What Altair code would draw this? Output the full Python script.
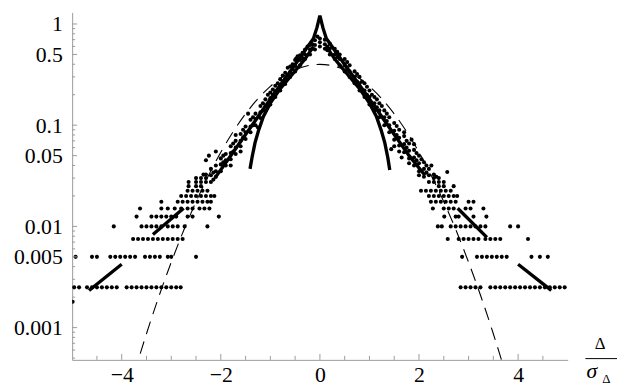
import altair as alt
import pandas as pd

# ---------------- data ----------------
# quantised low-level rows of the histogram (y level -> x positions)
row_levels = [0.0025, 0.005, 0.0075, 0.01, 0.0125, 0.015, 0.0175, 0.02, 0.0225]
row_left_x = [
    [-4.96, -4.86, -4.7, -4.6, -4.5, -4.4, -4.3, -4.2, -4.1, -3.9, -3.8, -3.7, -3.6, -3.5, -3.4, -3.3, -3.2, -3.1, -3.0, -2.9, -2.81],
    [-4.93, -4.6, -4.5, -4.23, -4.13, -4.03, -3.93, -3.83, -3.73, -3.53, -3.43, -3.33, -3.23, -3.07, -3.0, -2.5],
    [-3.77, -3.67, -3.57, -3.47, -3.37, -3.27, -3.17, -3.07, -2.97, -2.87, -2.77],
    [-4.16, -3.6, -3.5, -3.4, -3.3, -3.2, -3.07, -2.97, -2.87, -2.73, -2.27],
    [-3.7, -3.4, -3.3, -3.2, -3.1, -3.0, -2.9, -2.67, -2.57, -2.04],
    [-3.63, -3.2, -3.07, -2.93, -2.8, -2.67, -2.57, -2.43, -2.33, -2.23],
    [-3.2, -2.87, -2.77, -2.67, -2.57, -2.47, -2.37, -2.27, -2.2],
    [-2.8, -2.7, -2.6, -2.5, -2.4, -2.3, -2.2, -2.13],
    [-2.67, -2.57, -2.47, -2.37, -2.27],
]
row_right_x = [
    [2.84, 2.94, 3.04, 3.14, 3.24, 3.44, 3.54, 3.64, 3.74, 3.84, 3.94, 4.04, 4.14, 4.24, 4.34, 4.44, 4.54, 4.64, 4.74, 4.84, 4.94],
    [2.87, 3.17, 3.27, 3.37, 3.47, 3.57, 3.67, 3.77, 4.27, 4.44, 4.6],
    [2.58, 2.8, 2.9, 3.0, 3.1, 3.2, 3.34, 3.44, 3.54, 3.64, 4.2],
    [2.38, 2.46, 2.64, 2.74, 2.84, 2.94, 3.04, 3.14, 3.24, 3.34, 3.84, 4.0],
    [2.51, 2.74, 2.8, 3.1, 3.36],
    [2.28, 2.5, 2.6, 2.7, 2.94, 3.04, 3.3],
    [2.24, 2.34, 2.44, 2.54, 2.64, 2.74, 3.0, 3.1],
    [2.2, 2.3, 2.4, 2.5, 2.6, 2.7, 2.77],
    [2.04, 2.14, 2.24, 2.34, 2.44, 2.54, 2.64],
]
extra_x = [-4.99]
extra_y = [0.0018]

# dense band of points (x, y)
band_left_x = [
    -2.5, -2.5, -2.5, -2.4, -2.4, -2.4, -2.3, -2.3, -2.3, -2.2, -2.2, -2.2,
    -2.1, -2.1, -2.1, -2.0, -2.0, -2.0, -1.9, -1.9, -1.9, -1.8, -1.8, -1.8,
    -1.7, -1.7, -1.7, -1.6, -1.6, -1.6, -1.5, -1.5, -1.5, -1.4, -1.4, -1.4,
    -1.3, -1.3, -1.3, -1.2, -1.2, -1.2, -1.1, -1.1, -1.1, -1.0, -1.0, -1.0,
    -0.9, -0.9, -0.9, -0.8, -0.8, -0.8, -0.7, -0.7, -0.7, -0.6, -0.6, -0.6,
    -0.5, -0.5, -0.5, -0.4, -0.4, -0.4, -0.3, -0.3, -0.3, -0.2, -0.2, -0.2,
    -0.1, -0.1, -0.1, 0.0, 0.0, 0.0,
    -2.65, -2.65, -2.35, -2.15, -2.15, -1.95, -1.95, -1.75, -1.75, -1.55, -1.55,
    -1.35, -1.35, -1.15, -1.15, -0.95, -0.95, -0.75, -0.75, -0.55, -0.55,
    -0.35, -0.35, -0.15, -0.15, -2.24, -2.1, -0.48,
    -2.3, -1.8, -1.7, -1.6, -1.45, -1.25, -1.05, -0.85, -0.65, -0.45, -0.25, -0.05,
]
band_left_y = [
    0.03, 0.025, 0.0275, 0.03, 0.0275, 0.025, 0.0325, 0.03, 0.0275, 0.037, 0.032, 0.0275,
    0.04, 0.035, 0.031, 0.047, 0.041, 0.035, 0.052, 0.045, 0.04, 0.062, 0.053, 0.046,
    0.07, 0.06, 0.052, 0.082, 0.07, 0.062, 0.097, 0.085, 0.073, 0.113, 0.097, 0.085,
    0.13, 0.115, 0.1, 0.155, 0.134, 0.118, 0.18, 0.155, 0.138, 0.21, 0.185, 0.16,
    0.245, 0.215, 0.19, 0.285, 0.25, 0.22, 0.33, 0.29, 0.255, 0.38, 0.335, 0.3,
    0.44, 0.385, 0.34, 0.49, 0.44, 0.39, 0.56, 0.5, 0.45, 0.62, 0.56, 0.5,
    0.69, 0.62, 0.56, 0.72, 0.66, 0.6,
    0.0275, 0.025, 0.0325, 0.034, 0.029, 0.05, 0.043, 0.066, 0.055, 0.09, 0.076,
    0.12, 0.1, 0.165, 0.14, 0.225, 0.2, 0.31, 0.27, 0.4, 0.36,
    0.52, 0.46, 0.63, 0.57, 0.05, 0.055, 0.456,
    0.045, 0.04, 0.08, 0.055, 0.13, 0.095, 0.2, 0.26, 0.37, 0.48, 0.6, 0.75,
]
band_right_x = [
    0.1, 0.1, 0.1, 0.2, 0.2, 0.2, 0.3, 0.3, 0.3, 0.4, 0.4, 0.4,
    0.5, 0.5, 0.5, 0.6, 0.6, 0.6, 0.7, 0.7, 0.7, 0.8, 0.8, 0.8,
    0.9, 0.9, 0.9, 1.0, 1.0, 1.0, 1.1, 1.1, 1.1, 1.2, 1.2, 1.2,
    1.3, 1.3, 1.3, 1.4, 1.4, 1.4, 1.5, 1.5, 1.5, 1.6, 1.6, 1.6,
    1.7, 1.7, 1.7, 1.8, 1.8, 1.8, 1.9, 1.9, 1.9, 2.0, 2.0, 2.0,
    2.1, 2.1, 2.1, 2.2, 2.2, 2.2, 2.3, 2.3, 2.3, 2.4, 2.4, 2.4, 2.5, 2.5,
    0.15, 0.15, 0.35, 0.35, 0.55, 0.55, 0.75, 0.75, 0.95, 0.95, 1.15, 1.15,
    1.35, 1.35, 1.55, 1.55, 1.75, 1.75, 1.95, 1.95, 2.15, 2.15, 2.35,
    2.57, 1.44, 2.7,
    1.5, 1.6, 1.7, 1.8, 1.9, 2.0, 1.65, 1.85, 2.05, 2.25, 1.25, 1.05, 0.85,
]
band_right_y = [
    0.7, 0.63, 0.57, 0.64, 0.57, 0.5, 0.57, 0.5, 0.45, 0.5, 0.45, 0.39,
    0.45, 0.39, 0.34, 0.39, 0.34, 0.3, 0.34, 0.3, 0.26, 0.3, 0.26, 0.22,
    0.26, 0.22, 0.19, 0.22, 0.19, 0.16, 0.19, 0.165, 0.14, 0.165, 0.14, 0.12,
    0.14, 0.12, 0.1, 0.12, 0.1, 0.085, 0.105, 0.088, 0.072, 0.09, 0.075, 0.063,
    0.078, 0.065, 0.054, 0.066, 0.056, 0.047, 0.057, 0.048, 0.04, 0.05, 0.042, 0.035,
    0.043, 0.037, 0.031, 0.037, 0.032, 0.0275, 0.0325, 0.03, 0.0275, 0.03, 0.0275, 0.025, 0.0275, 0.025,
    0.6, 0.55, 0.53, 0.47, 0.42, 0.36, 0.32, 0.27, 0.24, 0.2, 0.18, 0.15,
    0.13, 0.11, 0.098, 0.08, 0.07, 0.06, 0.053, 0.045, 0.04, 0.034, 0.031,
    0.0345, 0.058, 0.025,
    0.062, 0.055, 0.085, 0.042, 0.065, 0.032, 0.048, 0.072, 0.046, 0.04, 0.155, 0.2, 0.27,
]

# Gaussian reference curve (dashed)
gauss_x = [-3.75, -3.5, -3.25, -3.0, -2.75, -2.5, -2.25, -2.0, -1.75, -1.5, -1.25, -1.0, -0.75, -0.5, -0.25,
           0.0, 0.25, 0.5, 0.75, 1.0, 1.25, 1.5, 1.75, 2.0, 2.25, 2.5, 2.75, 3.0, 3.25, 3.5, 3.75]
gauss_y = [0.00035, 0.00087, 0.00203, 0.00443, 0.0091, 0.0175, 0.0317, 0.054, 0.0863, 0.1295, 0.1826, 0.242, 0.3011, 0.3521, 0.3867,
           0.399, 0.3867, 0.3521, 0.3011, 0.242, 0.1826, 0.1295, 0.0863, 0.054, 0.0317, 0.0175, 0.0091, 0.00443, 0.00203, 0.00087, 0.00035]

# thick theory curves
cusp_x = [-2.12, -1.8, -1.5, -1.2, -0.9, -0.6, -0.35, -0.13, -0.06, 0.0, 0.06, 0.13, 0.35, 0.6, 0.9, 1.2, 1.5, 1.8, 2.12]
cusp_y = [0.03, 0.05, 0.081, 0.131, 0.213, 0.339, 0.505, 0.72, 0.92, 1.21, 0.92, 0.72, 0.505, 0.339, 0.213, 0.131, 0.081, 0.05, 0.032]
bendL_x = [-1.41, -1.37, -1.31, -1.24, -1.14, -1.0, -0.8, -0.53, -0.3, -0.13]
bendL_y = [0.037, 0.048, 0.067, 0.088, 0.122, 0.165, 0.23, 0.33, 0.45, 0.6]
bendR_x = [0.13, 0.3, 0.53, 0.8, 1.0, 1.14, 1.24, 1.31, 1.37, 1.41]
bendR_y = [0.6, 0.45, 0.33, 0.23, 0.165, 0.122, 0.088, 0.067, 0.048, 0.036]
tail_segments = {
    "t1": ([-4.66, -4.0], [0.00233, 0.00423]),
    "t2": ([-3.37, -2.75], [0.0083, 0.0151]),
    "t3": ([2.78, 3.37], [0.0151, 0.0078]),
    "t4": ([4.0, 4.67], [0.00423, 0.00233]),
}

# axis ticks
x_major = [-4, -2, 0, 2, 4]
x_minor = [-4.5, -3.5, -3, -2.5, -1.5, -1, -0.5, 0.5, 1, 1.5, 2.5, 3, 3.5, 4.5]
y_major = [1, 0.5, 0.1, 0.05, 0.01, 0.005, 0.001]
y_minor = [0.9, 0.8, 0.7, 0.6, 0.4, 0.3, 0.2,
           0.09, 0.08, 0.07, 0.06, 0.04, 0.03, 0.02,
           0.009, 0.008, 0.007, 0.006, 0.004, 0.003, 0.002,
           0.0009, 0.0008, 0.0007, 0.0006, 0.0005]

# ---------------- tables ----------------
pts = []
for lev, xs in zip(row_levels, row_left_x):
    pts += [{"x": v, "y": lev} for v in xs]
for lev, xs in zip(row_levels, row_right_x):
    pts += [{"x": v, "y": lev} for v in xs]
pts += [{"x": a, "y": b} for a, b in zip(extra_x, extra_y)]
pts += [{"x": a, "y": b} for a, b in zip(band_left_x, band_left_y)]
pts += [{"x": a, "y": b} for a, b in zip(band_right_x, band_right_y)]
pts_df = pd.DataFrame(pts)

gauss_df = pd.DataFrame({"x": gauss_x, "y": gauss_y, "o": list(range(len(gauss_x)))})

thick_rows = []
def add_seg(name, xs, ys):
    for i, (a, b) in enumerate(zip(xs, ys)):
        thick_rows.append({"x": a, "y": b, "seg": name, "o": i})
add_seg("cusp", cusp_x, cusp_y)
add_seg("bendL", bendL_x, bendL_y)
add_seg("bendR", bendR_x, bendR_y)
for k, (xs, ys) in tail_segments.items():
    add_seg(k, xs, ys)
thick_df = pd.DataFrame(thick_rows)

xscale = alt.Scale(domain=[-5, 5], nice=False, zero=False)
yscale = alt.Scale(type="log", domain=[0.00048, 1.3], nice=False)

FONT = "Liberation Serif, Times New Roman, DejaVu Serif, serif"
GREY = "#9a9a9a"

xaxis = alt.Axis(values=x_major, ticks=False, grid=False, title=None, format="~g",
                 domainColor=GREY, domainWidth=1, labelFont=FONT, labelFontSize=22,
                 labelColor="black", labelPadding=5, labelFlush=False)
yaxis = alt.Axis(values=y_major, ticks=False, grid=False, title=None, format="~g",
                 domainColor=GREY, domainWidth=1, labelFont=FONT, labelFontSize=22,
                 labelColor="black", labelPadding=10, labelFlush=False)

def X(f):
    return alt.X(f, scale=xscale, axis=xaxis, title=None)

def Y(f):
    return alt.Y(f, scale=yscale, axis=yaxis, title=None)

points = alt.Chart(pts_df).mark_circle(size=17, color="black", opacity=1, clip=True).encode(
    x=X("x:Q"), y=Y("y:Q"))

gauss = alt.Chart(gauss_df).mark_line(color="black", strokeWidth=1.1, strokeDash=[13, 8],
                                      interpolate="monotone", clip=True).encode(
    x=X("x:Q"), y=Y("y:Q"), order="o:Q")

thick = alt.Chart(thick_df).mark_line(color="black", strokeWidth=3.4, clip=True,
                                      strokeCap="butt").encode(
    x=X("x:Q"), y=Y("y:Q"), detail="seg:N", order="o:Q")

ytick_major = alt.Chart(pd.DataFrame({"v": y_major})).mark_rule(color=GREY, strokeWidth=1).encode(
    y=Y("v:Q"), x=alt.value(0), x2=alt.value(5))
ytick_minor = alt.Chart(pd.DataFrame({"v": y_minor})).mark_rule(color=GREY, strokeWidth=1).encode(
    y=Y("v:Q"), x=alt.value(0), x2=alt.value(3))
xtick_major = alt.Chart(pd.DataFrame({"v": x_major})).mark_rule(color=GREY, strokeWidth=1).encode(
    x=X("v:Q"), y=alt.value(352), y2=alt.value(346))
xtick_minor = alt.Chart(pd.DataFrame({"v": x_minor})).mark_rule(color=GREY, strokeWidth=1).encode(
    x=X("v:Q"), y=alt.value(352), y2=alt.value(348))

one = alt.Data(values=[{"a": 1}])
t_num = alt.Chart(one).mark_text(text="Δ", font=FONT, fontSize=17, align="center",
                                 baseline="alphabetic", color="black").encode(
    x=alt.value(535), y=alt.value(340.5))
t_bar = alt.Chart(one).mark_rule(color="black", strokeWidth=1).encode(
    x=alt.value(520), x2=alt.value(553), y=alt.value(350.7))
t_sig = alt.Chart(one).mark_text(text="σ", font=FONT, fontSize=22, fontStyle="italic", align="left",
                                 baseline="alphabetic", color="black").encode(
    x=alt.value(521), y=alt.value(370))
t_sub = alt.Chart(one).mark_text(text="Δ", font=FONT, fontSize=13, align="left",
                                 baseline="alphabetic", color="black").encode(
    x=alt.value(537), y=alt.value(375))

chart = alt.layer(
    points, gauss, thick,
    ytick_major, ytick_minor, xtick_major, xtick_minor,
    t_num, t_bar, t_sig, t_sub,
).properties(
    width=502, height=352,
    autosize=alt.AutoSizeParams(type="none"),
    padding={"left": 65, "top": 2, "right": 50, "bottom": 27},
    background="white",
).configure_view(strokeWidth=0)

chart.save("out.html", embed_options={"renderer": "svg", "actions": False})
